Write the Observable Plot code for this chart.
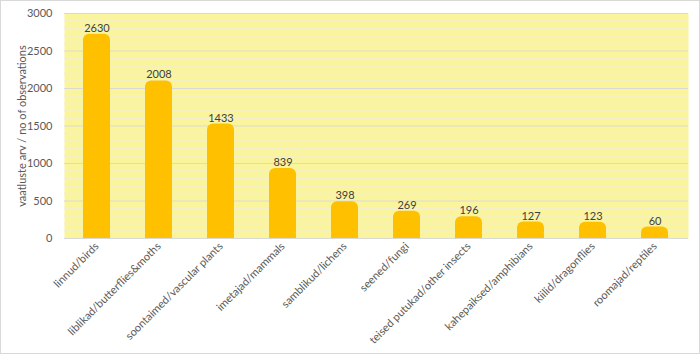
<!DOCTYPE html>
<html><head><meta charset="utf-8">
<script src="https://cdn.jsdelivr.net/npm/d3@7"></script>
<script src="https://cdn.jsdelivr.net/npm/@observablehq/plot@0.6"></script>
<style>
body{margin:0;background:#fff;}
svg{outline:1px solid #d9d9d9;outline-offset:-1px;}
</style>
</head><body><div id="chart"></div>
<script>
const categories = ["linnud/birds","liblikad/butterflies&moths","soontaimed/vascular plants","imetajad/mammals","samblikud/lichens","seened/fungi","teised putukad/other insects","kahepaiksed/amphibians","kiilid/dragonflies","roomajad/reptiles"];
const values = [2630,2008,1433,839,398,269,196,127,123,60];
const yTicks = [0,500,1000,1500,2000,2500,3000];
const minorTicks = [100,200,300,400,600,700,800,900,1100,1200,1300,1400,1600,1700,1800,1900,2100,2200,2300,2400,2600,2700,2800,2900];
const yLabel = "vaatluste arv / no of observations";

const data = categories.map((c,i)=>({cat:c, v:values[i]}));
const font = "Lato, 'Open Sans', sans-serif";

const chart = Plot.plot({
  width:700, height:354,
  marginLeft:64, marginRight:12, marginTop:13, marginBottom:116,
  style:{fontFamily:font, fontSize:"11px", color:"#595959", background:"#fff"},
  x:{domain:categories, paddingInner:0.56, paddingOuter:0.28, label:null},
  y:{domain:[0,3000]},
  marks:[
    Plot.frame({fill:"#FAF49C", stroke:null}),
    Plot.ruleY(minorTicks,{stroke:"#f3efcb", strokeWidth:1.5}),
    Plot.ruleY(yTicks,{stroke:"#d9d9d9", strokeWidth:1.2}),
    Plot.barY(data,{x:"cat", y:"v", fill:"#FFC000", rx:6, insetTop:-7}),
    Plot.barY(data,{x:"cat", y:d=>Math.min(d.v,60), fill:"#FFC000"}),
    Plot.text(data,{x:"cat", y:"v", text:d=>String(d.v), dy:-13, fill:"#404040", fontSize:11}),
    Plot.axisX({tickRotate:-45, tickSize:0, tickPadding:6, fill:"#595959", fontSize:11, label:null}),
    Plot.axisY({ticks:yTicks, tickFormat:d3.format("d"), tickSize:0, tickPadding:12, fill:"#595959", fontSize:11,
      label:yLabel, labelAnchor:"center", labelArrow:"none", labelOffset:46})
  ]
});
document.getElementById("chart").appendChild(chart);
</script>
</body></html>
